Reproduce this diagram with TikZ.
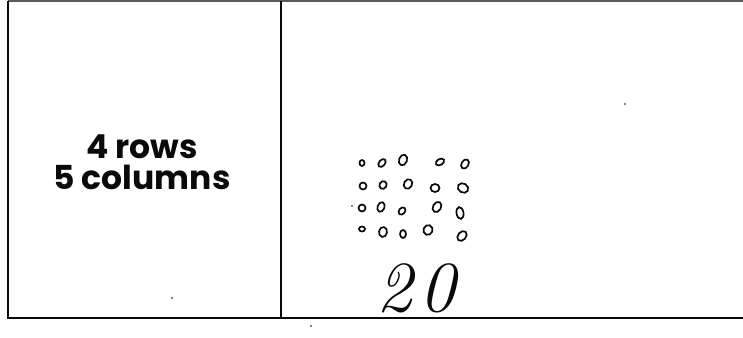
\documentclass[tikz,border=0pt]{standalone}
\usepackage{fontspec}
\setsansfont{Poppins}
\usetikzlibrary{positioning}
\definecolor{INK}{RGB}{10,10,10}
\definecolor{RULE}{RGB}{90,90,90}
\tikzset{
  % table frame
  frame/.style={draw=INK, line width=2.8pt},
  topline/.style={draw=RULE, line width=1.2pt},
  % prompt text
  prompt/.style={
    align=center, inner sep=0pt,
    font=\fontsize{33}{31}\selectfont\sffamily\bfseries, text=INK
  },
  % child's marks
  counter/.style={draw=INK, line width=1.7pt},
  answer/.style={inner sep=0pt, font=\fontsize{72}{72}\selectfont\itshape, text=INK},
  speck/.style={fill=INK, inner sep=0pt, minimum size=1.8pt, circle},
}

\begin{document}
\begin{tikzpicture}[x=1pt, y=-1pt]
\useasboundingbox (0,0) rectangle (743,337);
\fill[white] (0,0) rectangle (743,337);

% ── Frame ────────────────────────────────────────────────────────────────────
\coordinate (tl) at (8,1);
\coordinate (bl) at (8,318);
\coordinate (mt) at (281,1);
\coordinate (mb) at (281,318);
\coordinate (tr) at (743,1);
\coordinate (br) at (743,318);
\draw[topline] (tl) -- (tr);
\draw[frame] (tl) -- (bl) -- (br);
\draw[frame] (mt) -- (mb);

% ── Left cell ────────────────────────────────────────────────────────────────
\node[prompt] (task) at (142,162) {4 rows\\5 columns};

% ── Right cell: drawn array ─────────────────────────────────────────────────
\foreach \x/\y/\a/\b/\t in {362/163/2.5/3/0, 382/163/3/4.5/-40, 403/160/4/5.5/-20, 440/162/3/4.5/-60, 465/164/3.5/5/-30,
                      363/186/3.5/3.5/0, 383/185/3.5/4/-30, 408/184/4/5/-30, 435/188/4.5/4/0, 463/188/4.5/5.5/60,
                      362/208/3.5/3.5/0, 381/207/3.5/5/-20, 402/211/3/4/-40, 437/207/4/5.5/-30, 460/213/3.5/6/10,
                      362/229/3/2.5/0, 383/232/4/5/-10, 403/234/3/4/0, 428/230/4.5/5/-20, 462/236/4/5.5/-40}
  \draw[counter] (\x,\y) ellipse[x radius=\a, y radius=\b, rotate=\t];

\node[answer] (total) at (416,288) {2\kern8pt0};

% ── Specks ───────────────────────────────────────────────────────────────────
\node[speck] (s1) at (352,206) {};
\node[speck] (s2) at (625,104) {};
\node[speck] (s3) at (172,298) {};
\node[speck] (s4) at (311,326) {};

\end{tikzpicture}
\end{document}
